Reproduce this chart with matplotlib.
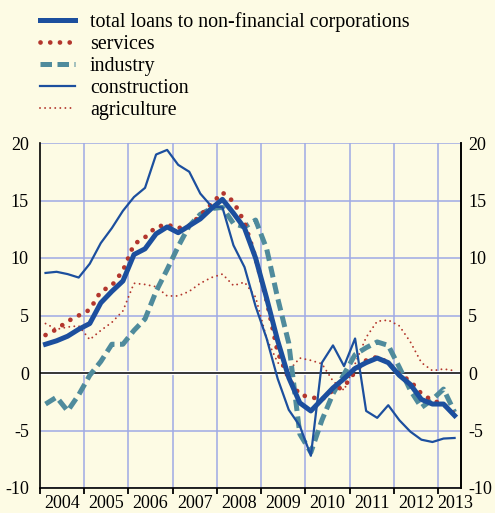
import numpy as np
import matplotlib
matplotlib.use('Agg')
import matplotlib.pyplot as plt

plt.rcParams['font.family'] = ['Liberation Serif', 'DejaVu Serif']
plt.rcParams['axes.unicode_minus'] = False

# quarterly data, 2004Q1 - 2013Q2
quarters = 2004.125 + 0.25 * np.arange(38)

total = [2.5, 2.8, 3.2, 3.8, 4.3, 6.1, 7.1, 8.0, 10.3, 10.8,
         12.1, 12.7, 12.2, 12.8, 13.4, 14.3, 15.1, 13.9, 12.6, 10.0,
         6.5, 2.8, -0.4, -2.6, -3.3, -2.3, -1.3, -0.5, 0.4, 0.9,
         1.3, 0.9, -0.2, -1.0, -2.3, -2.7, -2.7, -3.7]
services = [3.3, 3.8, 4.5, 5.0, 5.5, 7.1, 7.6, 8.9, 11.2, 11.8,
            12.7, 12.9, 12.6, 12.8, 13.7, 14.7, 15.7, 14.9, 13.1, 10.0,
            6.3, 1.8, -0.5, -1.9, -2.1, -2.3, -1.5, -1.2, 0.1, 1.1,
            1.4, 0.9, -0.1, -0.7, -1.8, -2.4, -2.7, -3.6]
industry = [-2.7, -2.1, -3.3, -1.9, -0.2, 1.0, 2.5, 2.5, 3.7, 4.7,
            7.1, 9.0, 11.0, 12.8, 13.8, 14.3, 14.4, 13.0, 12.7, 13.3,
            10.8, 6.5, 2.6, -5.3, -6.9, -4.1, -1.8, -0.1, 1.6, 2.2,
            2.7, 2.4, 0.5, -1.5, -3.0, -2.3, -1.4, -3.4]
construction = [8.7, 8.8, 8.6, 8.3, 9.5, 11.3, 12.6, 14.1, 15.3, 16.1,
                19.0, 19.4, 18.1, 17.5, 15.6, 14.5, 14.4, 11.1, 9.2, 5.8,
                3.0, -0.5, -3.2, -4.6, -7.2, 0.9, 2.4, 0.6, 3.0, -3.3,
                -3.9, -2.8, -4.1, -5.1, -5.8, -6.0, -5.7, -5.65]
agriculture = [4.3, 3.8, 4.0, 4.1, 2.9, 3.7, 4.4, 5.4, 7.8, 7.7,
               7.5, 6.7, 6.7, 7.1, 7.8, 8.3, 8.6, 7.6, 7.9, 6.6,
               3.0, 0.9, 0.2, 1.3, 1.1, 0.8, -0.7, -1.5, 0.8, 3.1,
               4.5, 4.6, 4.1, 2.7, 0.9, 0.2, 0.35, 0.2]

years = list(range(2004, 2014))
yticks = [-10, -5, 0, 5, 10, 15, 20]

bg = '#fdfbe4'
blue = '#1c4f9e'
red = '#b3362d'
teal = '#4f8b9c'
grid_col = '#9eaae4'

fig = plt.figure(figsize=(4.95, 5.13), dpi=100, facecolor=bg)
ax = fig.add_axes([40 / 495, 1 - 488 / 513, 421 / 495, 345 / 513])
ax.set_facecolor(bg)

ax.set_xlim(2004, 2013.52)
ax.set_ylim(-10, 20)

# grid
for y in yticks:
    if y != 0:
        ax.axhline(y, color=grid_col, lw=1.1, zorder=1)
for yr in years[1:]:
    ax.axvline(yr, color=grid_col, lw=1.1, zorder=1)
ax.axhline(0, color='white', lw=3.0, zorder=1.5)
ax.axhline(0, color='black', lw=1.1, zorder=1.6)

l_agr, = ax.plot(quarters, agriculture, color=red, lw=1.4,
                 linestyle=(0, (0.01, 2.6)), dash_capstyle='round', zorder=3)
l_ind, = ax.plot(quarters, industry, color=teal, lw=3.6,
                 linestyle=(0, (2.3, 1.1)), dash_capstyle='butt', zorder=3)
l_ser, = ax.plot(quarters, services, color=red, lw=3.4,
                 linestyle=(0, (0.01, 2.05)), dash_capstyle='round', zorder=4)
l_con, = ax.plot(quarters, construction, color=blue, lw=1.6, zorder=5)
l_tot, = ax.plot(quarters, total, color=blue, lw=3.6, zorder=6)

ax.spines['top'].set_visible(False)
for s in ['left', 'right', 'bottom']:
    ax.spines[s].set_color('black')
    ax.spines[s].set_linewidth(1.2)

ax.set_yticks(yticks)
ax.set_yticklabels([str(v) for v in yticks])
ax.tick_params(axis='y', length=0, labelsize=13, pad=8)

# year labels centred in each year (last one only half a year wide)
label_pos = [min(y + 0.5, 2013.4) for y in years]
ax.set_xticks(years)
ax.set_xticklabels([])
ax.set_xticks(label_pos, minor=True)
ax.set_xticklabels([str(y) for y in years], minor=True)
ax.tick_params(axis='x', which='major', direction='out', length=4, width=1.3)
ax.tick_params(axis='x', which='minor', length=0, labelsize=13, pad=5)

ax2 = ax.twinx()
ax2.set_ylim(-10, 20)
ax2.set_yticks(yticks)
ax2.set_yticklabels([str(v) for v in yticks])
ax2.tick_params(axis='y', length=0, labelsize=13, pad=5)
for s in ['top', 'left', 'bottom']:
    ax2.spines[s].set_visible(False)
ax2.spines['right'].set_linewidth(1.2)

fig.legend([l_tot, l_ser, l_ind, l_con, l_agr],
           ['total loans to non-financial corporations', 'services',
            'industry', 'construction', 'agriculture'],
           loc='upper left', bbox_to_anchor=(40 / 495, 1 - 12 / 513),
           frameon=False, fontsize=14.4, borderpad=0, borderaxespad=0,
           handlelength=1.75, handletextpad=0.75, labelspacing=0.15)

fig.savefig('out.png', dpi=100, facecolor=bg)
